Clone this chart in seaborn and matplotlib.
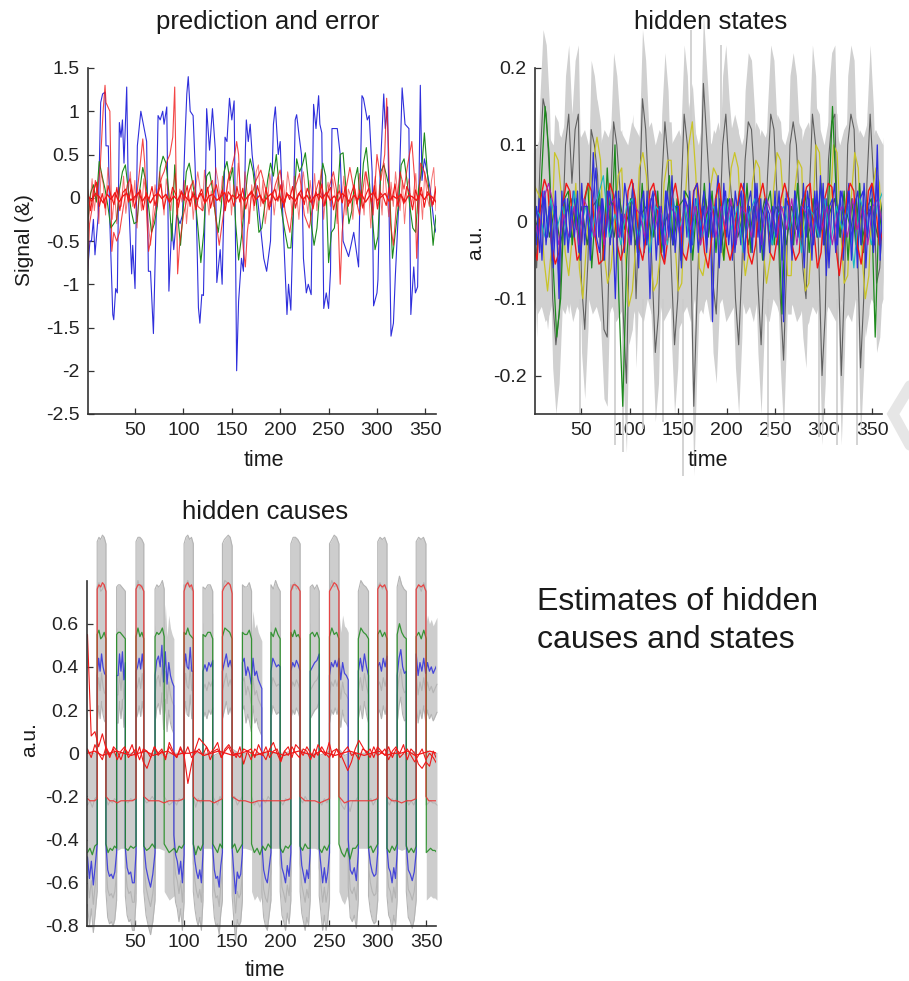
import numpy as np
import seaborn as sns
import matplotlib.pyplot as plt
from matplotlib.lines import Line2D

sns.set_style("white")
plt.rcParams['font.family'] = ['Liberation Sans', 'DejaVu Sans']
plt.rcParams['axes.unicode_minus'] = False

BLUE = '#2f2fdc'
GREEN = '#1c8a1c'
RED = '#f01818'

# prediction and error
pred_blue_t = [1,3.4,5,7,8.6,12,14.5,16.5,19,20,22.4,24,27,28,30,31.7,33.8,35.5,37,38.6,41.4,43,46.5,47.6,50,52.4,56,58.6,62,63.8,66,69,71.7,73.8,76,78.6,80,82.8,85,88,90,93,96.5,99,101.7,103.5,105,107,110,112,114,115.5,117,119,120.7,122.4,124,127,130,133,134.5,138,140,142,143,145,147.6,150,152.4,153.4,155,157,160,162,164,165,167,169,171,172,177,183,186,190,193,195,198,200,203,207,208.6,211,214,215.5,217,219.7,222,224,227,229,232,234.5,237,239.7,241,243,245,247.6,250,252,253.5,257,259,262,265,270.7,276,281,284.5,286,290,292,295,296.5,300,301,303.4,307,308.6,311,312,314.5,317,319,322.4,326,329,333,335,338,339.7,342,344.8,346.5,349,351.7,355,359,361]
pred_blue_y = [-.85,-.5,-.5,-.25,-.66,-.2,1.1,1.2,1.22,.6,.6,-.3,-1.35,-1.41,-1.05,-1.1,.87,.7,.9,.4,1.28,.1,-.88,-.55,-1.05,.6,1.0,.85,.65,-.85,-.85,-1.57,-.3,.95,.9,1.0,.85,1.05,-1.08,-.3,-.6,-.2,-.3,-.2,.7,1.2,1.4,1.0,.95,.4,-.5,-1.27,-1.45,-1.12,-1.13,-.1,1.03,.55,1.03,.55,-.98,-.6,-1.0,0,.7,.65,1.15,.9,1.12,0,-2.0,-1.2,-.7,-.85,.55,.9,.65,.85,.5,.4,-.05,-.7,-.85,-.5,.85,1.05,.5,.65,-.3,-1.35,-1.0,-1.3,0,.9,.96,.7,.5,-.7,-1.1,-1.0,-1.12,1.08,.8,1.18,.85,.75,-1.28,-1.1,-1.28,-.85,.8,.8,.8,.5,-.5,-.68,-.4,-.8,1.18,1.15,.9,.95,.3,-1.25,-1.1,-.95,.3,1.2,.8,1.05,.2,-1.6,-1.45,-.9,-.1,1.27,.85,.8,-1.35,-.8,-1.1,-1.03,1.3,.2,.45,.3,.1,-.3,-.4]

pred_green = [-.3,.05,.15,-.05,.42,.25,.1,-.1,-.35,-.3,-.25,.1,.3,.38,.1,-.15,-.3,-.28,.1,.35,.2,-.1,-.4,-.3,-.1,.35,.48,.4,.05,-.5,.38,-.2,-.55,-.1,.3,.4,.2,0,-.35,-.75,-.4,.25,.3,.1,-.2,-.4,-.1,.3,.42,.2,.35,-.3,-.72,-.45,-.1,.25,.45,.3,0,-.4,-.35,-.1,.2,.4,.25,.5,.1,-.2,-.4,-.58,-.58,-.1,.45,.3,.38,.52,.2,-.3,-.55,-.35,.1,.4,.25,-.75,-.4,-.35,0,.5,.52,.1,-.3,-.15,.2,.35,-.1,.4,.58,.2,-.2,-.6,-.45,.3,.38,.25,.1,-.7,-.4,-.1,.38,.45,.2,-.1,-.35,-.4,.1,.3,.75,.3,-.1,-.55,-.2]

pred_red_t = [1,3,6,9,11,14,17,19,20,22,24,25,26,28,31,34,38,42,45,48,52,55,58,60,62,64,66,70,74,78,80,83,86,89,91,92.5,94,96,100,105,110,115,120,125,130,134,137,140,146,150,153,155,157,160,162,164,166,170,175,180,185,190,195,200,205,210,215,220,225,230,235,240,245,250,255,258,260,262,264,268,272,276,282,288,292,296,300,304,308,310,312,314,317,320,324,328,332,336,339,341,343,345,349,353,357,361]
pred_red_y = [-.88,-.3,-.1,.2,.05,.35,1.0,1.3,1.1,1.05,1.0,.3,-.62,-.4,-.5,-.4,-.1,.15,.22,-.05,.05,.35,.68,.4,-.2,-.62,-.5,-.2,.1,.25,.3,.42,.5,.7,1.28,.2,-.88,-.55,-.2,.05,.2,-.1,-.15,.1,.2,-.3,-.55,-.3,.2,.35,.5,.65,.5,-.3,-.6,-.8,-.4,0,.2,.32,.1,-.1,.15,.32,-.15,-.4,.1,.28,-.2,-.35,0,.2,-.1,.1,.3,.1,-.3,-1.0,-.4,.1,.35,.1,-.2,.3,.1,-.2,.5,.2,.5,1.15,.55,-.3,-.55,-.1,.3,.1,.4,.65,.2,-.7,-.2,.4,.3,.1,-.1,.13]

pred_red2 = [-.4,-.1,.22,-.15,.1,-.3,.3,.15,-.2,.35,.1,-.25,.05,-.3,.12,-.1,.25,-.18,.05,.3,-.1,.2,-.35,.1,-.15,.22,.05,-.3,-.55,-.2,.15,-.1,.3,.1,-.2,.22,.05,-.15,.12,.28,-.2,.1,-.05,.2,-.3,.05,.15,-.25,.1,.3,.12,-.15,.32,.05,-.2,.08,-.1,.35,.2,-.05,.25,-.15,.1,.3,-.2,.15,-.05,.4,.1,-.25,.3,.05,-.3,.15,-.15,.3,.38,-.1,.2,-.3,-.1,.28,.1,-.2,.05,.25,-.12,.2,-.05,.3,.12,-.2,.25,.05,-.25,.12,.3,.05,-.18,.2,-.05,.28,-.15,.1,.33,-.25,.05,.18,-.1,.22,.05,-.3,.15,-.05,.25,-.2,.1,.02,-.25,.1,-.08,.28,.08,-.2,.3,.1,-.35,.05,.25,-.12,.15,-.2,.4,.05,-.22,.18,-.1,.3,.02,-.15,.2,-.3,.08,.22,-.1,.05,.28,-.18,.12,-.25,.3,.02,-.1,.2,.35,-.15]
pred_red3 = [.1,-.15,.08,.18,-.1,.05,-.12,.14,.02,-.08,.12,-.15,.06,.1,-.05,.15,-.12,.03,.09,-.14,.06,-.02,.13,-.09,.04,.16,-.13,.02,-.06,.12,.05,-.11,.08,-.03,.14,-.1,.07,-.14,.03,.1,-.06,.12,-.12,.04,.15,-.03,.09,-.15,.07,.02,-.1,.13,-.05,.11,-.13,.03,.08,-.09,.14,.01,-.07,.12,-.14,.05,.1,-.04,.15,-.11,.06,-.02,.13,-.12,.04,.09,-.08,.11,.02,-.13,.07,-.03,.16,-.09,.05,.12,-.14,.02,.08,-.06,.13,-.1,.04,.15,-.07,.09,-.12,.03,.11,-.05,.14,-.13,.06,.01,-.09,.12,-.03,.16,-.1,.04,-.07,.13,.05,-.14,.09,-.02,.12,-.11,.07,.02,-.08,.1]
pred_red4 = [.03,-.04,.05,.01,-.06,.04,-.02,.06,-.05,.02,.05,-.03,.01,.06,-.04,.03,-.06,.02,.05,-.01,.04,-.05,.02,-.03,.06,.01,-.04,.03,-.02,.05,-.06,.02,.04,-.03,.01,.06,-.05,.03,-.01,.04,-.04,.02,.06,-.02,.03,-.05,.01,.05,-.03,.02,-.06,.04,.01,-.04,.05,-.02,.03,-.05,.02,.04,-.01,.06,-.03,.02,-.04,.05,.01,-.06,.03,-.02,.04,-.05,.02,.06,-.03,.01,.05,-.04,.02,-.01,.04,-.05,.03,.01,-.03,.05,-.02,.04,.01,-.05]

# hidden states
state_black = [.08,-.06,.07,.16,.14,.06,-.1,-.16,-.12,-.02,.1,.14,.05,.12,.14,-.08,-.14,-.05,.12,.1,.06,-.05,-.14,-.15,.02,.13,.1,.04,-.12,-.21,.0,.05,-.1,.02,.16,.12,.03,-.06,-.17,-.12,.05,.13,.08,-.06,-.16,-.1,.03,.14,.1,-.02,-.24,-.1,.02,.18,.11,.04,-.08,-.12,-.02,.1,.14,.07,.02,-.1,-.16,-.06,.08,.13,.12,.05,-.08,-.16,-.05,.06,.14,.12,.03,-.1,-.18,-.05,.1,.13,.1,.02,-.06,-.1,.03,.14,.1,-.05,-.2,-.12,.08,.13,.14,-.04,-.2,-.08,.1,.14,.12,-.02,-.19,-.1,.05,.14,.06,-.08,-.06,.02]
state_yellow = [.05,.04,.03,-.05,-.09,-.04,.09,.08,.03,-.04,-.07,-.02,.05,-.06,-.1,-.03,.04,.08,.11,.08,-.04,-.08,-.06,.0,.06,.07,-.04,-.11,-.09,-.03,.07,.09,.06,-.03,-.09,-.08,-.04,.05,.08,.08,-.02,-.09,-.08,.03,.1,.13,.06,-.06,-.07,-.04,.04,.07,.06,-.03,-.05,.01,.07,.09,.07,-.02,-.07,-.04,.05,.08,.07,-.03,-.08,-.05,.04,.09,.08,.01,-.07,-.07,.04,.08,.07,-.09,-.08,-.01,.1,.09,.0,-.06,.01,.1,.09,-.01,-.08,-.07,.03,.09,.07,-.04,-.1,-.07,.04,.07,.05,-.04]
state_green = [.02,-.03,.05,.15,.09,-.05,-.15,-.1,.03,.04,-.03,.03,-.05,.02,.05,-.06,.02,.04,-.05,.07,-.02,.1,-.1,-.24,-.05,.03,.02,-.04,.05,-.03,.03,-.02,.04,-.04,.02,.06,-.03,.03,-.05,.04,.03,-.05,.02,-.03,.05,-.02,.04,-.04,.03,-.05,.03,.02,-.03,.04,-.02,.05,-.04,.02,.03,-.05,.02,.04,-.03,.02,-.12,.03,.02,-.03,.05,-.02,.04,-.04,.03,-.02,.05,-.03,.02,.15,.03,-.02,.04,-.05,.03,-.03,.05,-.04,.02,.03,-.15,.02,-.03]
state_green2 = [-.02,.01,.03,-.02,.02,-.03,.01,.03,-.01,.02,-.03,.02,.03,-.02,.01,-.02,.03,-.01,.02,-.03,.01,.02,-.02,.03,-.01,.01,-.03,.02,.03,-.02,.01,-.01,.03,-.02,.02,-.03,.01,.03,-.02,.01,-.03,.02,-.01,.03,-.02,.02,.01,-.03,.02,-.01,.03,-.02,.01,.02,-.03,.01,.03,-.02,.02,-.01,.03,-.03,.01,.02,-.02,.03]
state_blue1 = [.02,-.03,.03,-.05,.04,-.02,.03,-.06,.02,-.1,.04,-.03,.03,-.02,.04,.01,-.04,.05,-.03,.02,-.05,.03,.07,-.02,.03,-.05,.04,-.03,.02,.04,-.02,.01,-.04,.03,-.02,.05,.01,-.06,.03,-.04,.04,-.1,.03,.04,-.03,.02,-.05,.04,.01,-.03,.02,.02,-.05,.04,-.02,.04,-.03,.03,-.04,.01,.04,-.03,.05,-.13,.02,.06,-.04,.05,-.02,.03,-.05,.04,.01,-.03,.05,-.02,.02,-.04,.05,-.02,.03,-.05,.02,.01,-.03,.04,-.03,.02,-.13,.04,.03,-.05,.04,.01,-.03,.05,-.02,.03,-.05,.04,-.02,.06,-.03,.03,-.06,.02,.05,-.03,.04,-.05,.01,.05,-.03,.03,-.06,.03,.04,-.06,.02,.05,-.03,.1,-.05,.03]
state_blue2 = [-.02,.02,-.04,.04,-.03,.02,-.05,.04,-.07,.02,.03,-.04,.02,-.02,.04,-.05,.02,.02,-.03,.09,-.02,-.04,.03,-.02,.04,.02,-.1,.04,-.02,.05,.02,-.03,.03,-.04,.02,.04,-.03,.02,.04,-.05,.02,-.03,.04,-.02,.06,-.04,.02,-.06,.03,.02,-.04,.04,.05,-.02,.02,-.04,.04,-.02,.03,-.06,.02,.04,-.03,.02,-.04,.02,.04,-.05,.02,.04,-.02,.05,-.04,.01,.03,-.04,.02,-.02,.04,-.05,.03,.02,-.04,.04,-.02,.02,-.06,.04,.01,-.03,.04,-.02,.05,-.07,.02,.03,-.04,.02,.04,-.02,.04,-.05,.02,.04,-.03,.05,-.02,.02,-.04,.06,-.03,.02]
state_red = [-.03,-.05,.03,.055,.04,-.03,-.055,-.04,.02,.05,.04,-.01,-.05,-.04,.03,.05,.04,-.02,-.055,-.05,.01,.05,.035,-.03,-.05,-.03,.04,.055,.03,-.03,-.05,-.02,.04,.05,.02,-.04,-.055,-.02,.03,.05,.02,-.04,-.05,-.02,.04,.05,.01,-.04,-.06,-.02,.03,.05,.01,-.03,-.05,-.03,.02,.05,.035,-.04,-.055,-.03,.03,.05,.02,-.04,-.05,-.02,.03,.05,.03,-.03,-.05,-.04,.02,.045,.05,-.01,-.06,-.04,.03,.05,.045,-.03,-.07,-.03,.03,.05,.04,-.03,-.055,-.02,.04,.05,.02,-.03,-.01]
state_magenta = [.01,-.02,.03,.05,.02,-.03,.01,-.02,.02,-.03,.03,.01,-.02,.02,-.03,.02,.03,-.02,.01,-.03,.02,.01,-.02,.03,-.01,.02,-.03,.02,.01,-.02,.03,-.01,.02,-.03,.01,.03,-.02,.02,-.01,.03,-.03,.02,.01,-.02,.02,-.03,.03,.01,-.02,.02,-.01,.03,-.03,.02,.01,-.02,.03,-.01,.02,-.03,.01,.02,-.02,.03,-.01,.02,-.03,.02,.03,-.01]
state_cyan = [.02,.01,-.02,.03,-.01,.02,-.03,.04,-.01,.02,-.02,.03,.06,-.02,.01,-.03,.02,.03,-.02,.01,-.04,.02,.01,-.03,.03,-.01,.02,-.04,.03,-.02,.01,.02,-.03,.03,-.01,.02,-.04,.01,.03,-.02,.02,-.03,.01,.02,-.01,.03,-.04,.02,.01,-.02,.03,-.03,.02,-.01,.02,-.06,.03,.01,-.03,.02,.04]
state_floor_hi = [.09,.1,.12,.13,.11,.1,.12,.11,.13,.12,.1,.13,.11,.12,.1,.13,.11,.1,.12,.11,.13,.1,.12,.11,.1,.13,.12,.11,.1,.12,.13,.1,.12,.11,.13,.1,.11,.12,.1,.13,.11,.12,.1,.13,.12,.1,.11,.13,.1,.12,.11,.13,.12,.1,.12,.13,.11,.1,.12,.11,.13,.1,.12,.11,.1,.12,.13,.11,.1,.12,.13,.1,.11,.12,.1,.13,.11,.12,.1,.12,.13,.11,.1,.12,.11,.13,.1,.12,.11,.1]
state_floor_lo = [-.1,-.12,-.11,-.13,-.12,-.1,-.13,-.11,-.12,-.1,-.13,-.11,-.12,-.13,-.1,-.12,-.11,-.13,-.1,-.12,-.11,-.13,-.12,-.11,-.1,-.13,-.11,-.12,-.13,-.1,-.12,-.11,-.1,-.13,-.12,-.11,-.13,-.1,-.12,-.11,-.13,-.1,-.12,-.11,-.1,-.13,-.12,-.11,-.1,-.13,-.12,-.11,-.13,-.1,-.12,-.11,-.13,-.1,-.11,-.12,-.13,-.1,-.11,-.13,-.12,-.1,-.11,-.13,-.12,-.1,-.13,-.11,-.12,-.1,-.13,-.11,-.12,-.13,-.1,-.11,-.12,-.13,-.1,-.11,-.13,-.12,-.1,-.11,-.12,-.1]
spike_t = [49,85,93,114,134,155,163,194,243,295,314,334]
spike_lo = [-.25,-.29,-.3,-.27,-.26,-.33,.1,.1,-.28,-.28,-.29,-.29]
spike_hi = [-.1,-.1,-.1,-.1,-.1,-.1,.25,.23,-.1,-.1,-.1,-.1]

# hidden causes
blue_edges = [1,11,20,31,40,51,59,70.6,90,100.5,110,120,130,140,150,160.6,180.6,190,199.5,210.5,220,230.4,239.7,250.3,269.6,280,290.5,300,309.5,320,329.4,339.6,361]
blue_levels = [
    [-.48,-.58,-.5,-.61,-.52,-.42],
    [.36,.44,.38,.46,.4,.37,.36],
    [-.42,-.54,-.57,-.56,-.58,-.55,-.46],
    [.36,.36,.46,.38,.47,.34,.42],
    [-.44,-.53,-.56,-.55,-.6,-.6,-.46],
    [.38,.4,.44,.39,.46,.38],
    [-.42,-.53,-.58,-.62,-.56,-.46],
    [.36,.43,.45,.4,.5,.33,.47,.32,.42,.36,.33,.31],
    [-.38,-.47,-.5,-.56,-.5,-.6,-.47],
    [.38,.46,.4,.39,.49,.38,.38],
    [-.42,-.5,-.55,-.58,-.54,-.6,-.46],
    [.38,.41,.38,.42,.4,.43],
    [-.44,-.54,-.58,-.57,-.62,-.52,-.46],
    [.38,.42,.46,.4,.43,.39],
    [-.44,-.55,-.65,-.55,-.58,-.56,-.46],
    [.42,.44,.36,.4,.37,.32,.44,.36,.38,.34,.32,.3],
    [-.42,-.54,-.58,-.6,-.53,-.46],
    [.38,.44,.42,.4,.41,.4],
    [-.42,-.53,-.56,-.6,-.52,-.57,-.46],
    [.38,.42,.4,.43,.41,.38],
    [-.42,-.52,-.56,-.6,-.54,-.58,-.46],
    [.38,.4,.42,.43,.46],
    [-.44,-.52,-.6,-.53,-.6,-.55,-.46],
    [.36,.42,.4,.43,.4,.44,.34,.42,.37,.36,.34],
    [-.4,-.54,-.56,-.53,-.59,-.46],
    [.38,.44,.38,.46,.4,.36],
    [-.44,-.51,-.55,-.57,-.56,-.46],
    [.4,.42,.38,.44,.4,.45],
    [-.44,-.53,-.55,-.6,-.53,-.58,-.46],
    [.36,.44,.48,.4,.37,.38],
    [-.42,-.54,-.56,-.59,-.55,-.46],
    [.46,.36,.42,.38,.44,.37,.42,.38,.4,.37,.39,.41],
]
green_edges = [1,11,20,31,40,51,59,70.6,80,100.5,110,120,130,140,150,160.6,170,190,199.5,210.5,220,230.4,239.7,250.3,260,280,290.5,300,309.5,320,329.4,339.6,350,361]
green_levels = [
    [-.46,-.44,-.47,-.43,-.42],
    [.55,.57,.53,.54,.56,.53],
    [-.42,-.46,-.44,-.45,-.43,-.44],
    [.55,.56,.56,.55,.54,.53],
    [-.44,-.45,-.43,-.44,-.43],
    [.54,.58,.54,.56,.53],
    [-.43,-.45,-.44,-.42,-.44],
    [.54,.56,.55,.56,.58,.54],
    [-.42,-.44,-.46,-.45,-.44,-.46,-.43,-.44,-.42],
    [.56,.55,.58,.55,.54,.53],
    [-.42,-.47,-.43,-.45,-.42],
    [.55,.54,.56,.56,.53],
    [-.42,-.44,-.46,-.42,-.44],
    [.54,.58,.57,.56,.53],
    [-.44,-.42,-.46,-.44,-.42],
    [.56,.55,.55,.57,.53],
    [-.42,-.46,-.44,-.47,-.43,-.45,-.42,-.44],
    [.56,.54,.58,.55,.53],
    [-.44,-.46,-.43,-.44,-.42],
    [.56,.54,.57,.54,.55,.53],
    [-.43,-.45,-.42,-.44,-.44],
    [.55,.56,.54,.56,.53],
    [-.44,-.46,-.43,-.45,-.42],
    [.54,.58,.55,.56,.53],
    [-.42,-.46,-.48,-.44,-.49,-.44,-.44,-.42],
    [.53,.58,.56,.55,.53],
    [-.44,-.43,-.46,-.44,-.42],
    [.55,.57,.54,.56,.53],
    [-.44,-.46,-.43,-.45,-.42],
    [.55,.6,.56,.54,.53],
    [-.43,-.46,-.44,-.46,-.43],
    [.54,.56,.53,.57,.53],
    [-.46,-.45,-.44,-.45,-.45,-.46],
]
red_edges = [1,11,20,51,59,100.5,110,140,150,210.5,220,250.3,260,300,309.5,339.6,349.6,361]
red_levels = [
    [-.21,-.22,-.22,-.22,-.21],
    [.76,.78,.77,.79,.78,.75],
    [-.2,-.22,-.22,-.23,-.22,-.22,-.22,-.22,-.21],
    [.76,.78,.78,.77,.75],
    [-.2,-.22,-.22,-.22,-.23,-.22,-.22,-.22,-.21],
    [.75,.78,.79,.77,.78,.75],
    [-.2,-.22,-.22,-.22,-.22,-.23,-.22,-.21],
    [.75,.77,.78,.79,.78,.74],
    [-.2,-.22,-.22,-.23,-.22,-.22,-.22,-.22,-.22,-.21],
    [.75,.78,.78,.77,.75],
    [-.2,-.22,-.22,-.22,-.23,-.22,-.21],
    [.75,.77,.79,.78,.75],
    [-.2,-.23,-.22,-.22,-.22,-.22,-.22,-.21],
    [.76,.78,.77,.78,.75],
    [-.2,-.22,-.22,-.23,-.22,-.22,-.21],
    [.76,.78,.77,.78,.75],
    [-.2,-.22,-.22,-.22,-.22],
]
cause_ci = {'red': .22, 'green': .22, 'blue': .22}

cause_red1 = [.55,.08,.1,.03,.09,.02,-.02,.03,.01,-.03,.02,.0,.04,-.02,.03,-.04,-.07,-.02,.03,.0,.02,-.03,.05,.01,-.02,.03,-.01,-.14,-.05,.02,.07,.05,.03,.0,.02,.05,-.02,.02,.04,.01,-.02,.03,-.05,.01,.02,-.02,.04,.0,-.03,.02,.05,.0,-.04,.01,.03,-.02,.04,.02,-.01,.03,.0,-.02,.04,.01,-.01,.05,-.02,.02,.0,-.04,-.08,-.04,.02,.06,.03,.0,.02,-.02,.03,.01,-.01,.03,-.02,.02,.0,.04,-.03,.02,.0,-.05,-.07,-.04,-.06,.01,-.03]
cause_red2 = [.02,-.02,.04,.0,-.03,.03,-.01,.02,-.03,.01,.03,-.02,.0,.02,-.03,.02,.01,-.02,.03,-.01,.01,-.02,.03,.0,-.02,.02,-.01,.03,-.02,.0,.02,-.01,.03,-.03,.01,.02,-.02,.01,.03,-.01,.0,-.02,.02,.01,-.03,.02,.0,-.01,.03,-.02,.01,.02,-.03,.01,-.01,.03,.0,-.02,.02,.01,-.03,.02,-.01,.03,.0,-.02,.01,.02,-.02,.01,.03,-.01,.0,-.03,.02,.01,-.02,.03,-.01,.0,.02,-.03,.01,.03,-.02,.0,.02,-.01,-.04,-.01,.02,-.03,.0,-.02,-.05]
cause_red3 = [.0,.01,-.01,.0,.01,.0,-.01,.0,.01,-.01,.0,.01,-.01,.0,.0,.01,-.01,.0,.01,.0,-.01,.0,.01,-.01,.0,.01,.0,-.01,.0,.01,.0,-.01,.01,.0,-.01,.0,.01,.0,-.01,.0,.01,-.01,.0,.0,.01,-.01,.0,.01,.0]

sum_title = ['Estimates of hidden', 'causes and states']


def line(ax, t, y, color, lw=0.8, alpha=1.0, clip=True):
    sns.lineplot(x=t, y=y, color=color, lw=lw, alpha=alpha, estimator=None, sort=False, errorbar=None, ax=ax, clip_on=clip, legend=False)


def grid(vals):
    return np.linspace(1, 361, len(vals))


def steps(edges, levels):
    t, y = [], []
    for i, lev in enumerate(levels):
        t.extend(np.linspace(edges[i], edges[i + 1], len(lev)))
        y.extend(lev)
    return np.array(t), np.array(y)


W, H = 909, 981
fig = plt.figure(figsize=(9.09, 9.81), dpi=100)


def add_axes(l, r, top, bottom):
    ax = fig.add_axes([l / W, 1 - bottom / H, (r - l) / W, (bottom - top) / H])
    ax.set_facecolor('none')
    for s in ['top', 'right']:
        ax.spines[s].set_visible(False)
    for s in ['left', 'bottom']:
        ax.spines[s].set_color('#333333')
        ax.spines[s].set_linewidth(1.2)
    ax.tick_params(direction='in', length=4, width=0.9, labelsize=14, color='#333333', labelcolor='#222222', pad=6, left=True, bottom=True)
    return ax


def ftext(x, y, s, **kw):
    fig.text(x / W, 1 - y / H, s, ha='center', va='center', color='#1a1a1a', **kw)


# watermark corner
fig.add_artist(Line2D([916 / W, 893 / W, 916 / W], [1 - 376 / H, 1 - 414 / H, 1 - 456 / H], color='#e6e6e6', lw=8, solid_joinstyle='miter', zorder=0))

xt = [50, 100, 150, 200, 250, 300, 350]

# panel 1
ax1 = add_axes(88, 436, 68, 414)
line(ax1, pred_blue_t, pred_blue_y, BLUE, 0.8)
line(ax1, grid(pred_green), pred_green, GREEN, 0.8)
line(ax1, pred_red_t, pred_red_y, RED, 0.8, 0.8)
line(ax1, grid(pred_red2), pred_red2, RED, 0.7, 0.6)
line(ax1, grid(pred_red3), pred_red3, RED, 0.8)
line(ax1, grid(pred_red4), pred_red4, RED, 1.0)
ax1.set_xlim(1.4, 361)
ax1.set_ylim(-2.5, 1.5)
ax1.set_xticks(xt)
ax1.set_yticks([-2.5, -2, -1.5, -1, -.5, 0, .5, 1, 1.5], ['-2.5', '-2', '-1.5', '-1', '-0.5', '0', '0.5', '1', '1.5'])

# panel 2
ax2 = add_axes(535, 882, 68, 414)
black_t = grid(state_black)
ax2.fill_between(black_t, np.array(state_black) - .09, np.array(state_black) + .09, color='#d0d0d0', lw=0, clip_on=False)
yellow_t = grid(state_yellow)
ax2.fill_between(yellow_t, np.array(state_yellow) - .05, np.array(state_yellow) + .05, color='#d0d0d0', lw=0, clip_on=False)
ax2.fill_between(grid(state_floor_hi), state_floor_lo, state_floor_hi, color='#d0d0d0', lw=0, clip_on=False)
ax2.vlines(spike_t, spike_lo, spike_hi, color='#cccccc', lw=1.2, clip_on=False)
line(ax2, black_t, state_black, '#606060', 0.8)
line(ax2, yellow_t, state_yellow, '#c9c428', 0.9)
line(ax2, grid(state_green), state_green, GREEN, 0.9)
line(ax2, grid(state_green2), state_green2, '#2a6f3a', 0.9)
line(ax2, grid(state_blue1), state_blue1, BLUE, 0.9)
line(ax2, grid(state_red), state_red, RED, 1.0)
line(ax2, grid(state_cyan), state_cyan, '#18b8c0', 0.8)
line(ax2, grid(state_magenta), state_magenta, '#b020b0', 0.8)
line(ax2, grid(state_blue2), state_blue2, BLUE, 0.9)
ax2.set_xlim(2.6, 360)
ax2.set_ylim(-.25, .2)
ax2.set_xticks(xt)
ax2.set_yticks([-.2, -.1, 0, .1, .2], ['-0.2', '-0.1', '0', '0.1', '0.2'])

# panel 3
ax3 = add_axes(87, 436, 580.5, 926)
bt, by = steps(blue_edges, blue_levels)
gt, gy = steps(green_edges, green_levels)
rt, ry = steps(red_edges, red_levels)
for t, y, c in [(rt, ry, 'red'), (gt, gy, 'green'), (bt, by, 'blue')]:
    ax3.fill_between(t, y - cause_ci[c], y + cause_ci[c], color='#cdcdcd', lw=0, clip_on=False)
line(ax3, bt, by - .22, '#b4b4b4', 0.8, clip=False)
line(ax3, bt, by - .09, '#b4b4b4', 0.8, clip=False)
line(ax3, rt, ry + .22, '#b4b4b4', 0.8, clip=False)
line(ax3, gt, gy + .22, '#b4b4b4', 0.8, clip=False)
line(ax3, bt, by, BLUE, 0.9, 0.85)
line(ax3, gt, gy, GREEN, 0.9, 0.85)
line(ax3, rt, ry, '#ee3030', 0.9, 0.85)
line(ax3, grid(cause_red1), cause_red1, RED, 0.8)
line(ax3, grid(cause_red2), cause_red2, RED, 0.8)
line(ax3, grid(cause_red3), cause_red3, RED, 0.9)
ax3.set_xlim(0.5, 360)
ax3.set_ylim(-.8, .8)
ax3.set_xticks(xt)
ax3.set_yticks([-.8, -.6, -.4, -.2, 0, .2, .4, .6], ['-0.8', '-0.6', '-0.4', '-0.2', '0', '0.2', '0.4', '0.6'])

# text
ftext(267.5, 22, 'prediction and error', fontsize=18.5)
ftext(711, 22, 'hidden states', fontsize=18.5)
ftext(265.5, 512, 'hidden causes', fontsize=18.5)
ftext(264, 460, 'time', fontsize=15.5)
ftext(708, 460, 'time', fontsize=15.5)
ftext(265, 970, 'time', fontsize=15.5)
ftext(24, 240, 'Signal (&)', fontsize=15, rotation=90)
ftext(476, 243, 'a.u.', fontsize=15, rotation=90)
ftext(30, 740, 'a.u.', fontsize=15, rotation=90)
fig.text(537 / W, 1 - 602 / H, sum_title[0], ha='left', va='center', fontsize=23, color='#1a1a1a')
fig.text(537 / W, 1 - 640 / H, sum_title[1], ha='left', va='center', fontsize=23, color='#1a1a1a')

fig.savefig('out.png', dpi=100)
